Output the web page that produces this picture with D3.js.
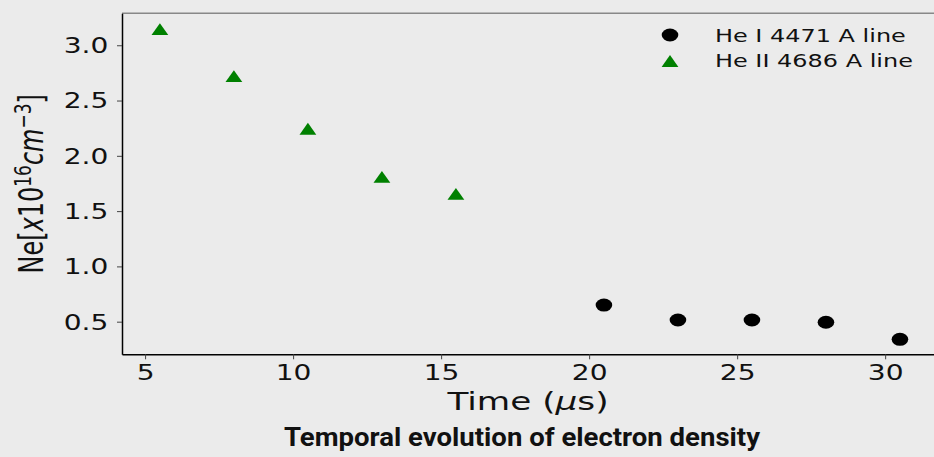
<!DOCTYPE html>
<html>
<head>
<meta charset="utf-8">
<script src="https://cdn.jsdelivr.net/npm/d3@7"></script>
<style>
  html, body { margin: 0; padding: 0; background: #ebebeb; }
  svg { display: block; }
  text { font-family: "DejaVu Sans", sans-serif; fill: #111; }
</style>
</head>
<body>
<div id="chart-area"></div>
<script>
// He I 4471 A line (circles)
var heITime = [20.5, 23, 25.5, 28, 30.5];
var heIDensity = [0.65, 0.515, 0.515, 0.495, 0.34];
// He II 4686 A line (triangles)
var heIITime = [5.5, 8, 10.5, 13, 15.5];
var heIIDensity = [3.145, 2.72, 2.245, 1.81, 1.655];

var xTicks = [5, 10, 15, 20, 25, 30];
var yTicks = [0.5, 1.0, 1.5, 2.0, 2.5, 3.0];
var seriesNames = ['He I 4471 A line', 'He II 4686 A line'];

var W = 934, H = 457;
var plot = { left: 122, top: 13.3, right: 934, bottom: 354.3 };
var SX = 1.37; // the picture is stretched sideways

var svg = d3.select('#chart-area')
    .append('svg')
    .attr('width', W)
    .attr('height', H);

svg.append('rect')
    .attr('width', W)
    .attr('height', H)
    .attr('fill', '#ebebeb');

var x = d3.scaleLinear()
    .domain([4.22, 31.65])
    .range([plot.left, plot.right]);

var y = d3.scaleLinear()
    .domain([0.205, 3.289])
    .range([plot.bottom, plot.top]);

// top spine (grey)
svg.append('line')
    .attr('x1', plot.left).attr('x2', plot.right)
    .attr('y1', plot.top).attr('y2', plot.top)
    .attr('stroke', '#888')
    .attr('stroke-width', 1.5);

var xAxis = d3.axisBottom(x)
    .tickValues(xTicks)
    .tickSize(5)
    .tickSizeOuter(0);
var gx = svg.append('g')
    .attr('transform', 'translate(0,' + plot.bottom + ')')
    .call(xAxis);
gx.select('.domain').attr('stroke', '#000').attr('stroke-width', 1.5);
gx.selectAll('.tick line').attr('stroke', '#444');
gx.selectAll('.tick text')
    .attr('y', 0)
    .attr('dy', null)
    .attr('transform', 'translate(0,26) scale(' + SX + ',1)')
    .style('font-family', '"DejaVu Sans", sans-serif')
    .style('font-size', '20.5px')
    .attr('fill', '#111');

var yAxis = d3.axisLeft(y)
    .tickValues(yTicks)
    .tickFormat(d3.format('.1f'))
    .tickSize(5)
    .tickSizeOuter(0);
var gy = svg.append('g')
    .attr('transform', 'translate(' + plot.left + ',0)')
    .call(yAxis);
gy.select('.domain').attr('stroke', '#000').attr('stroke-width', 1.5);
gy.selectAll('.tick line').attr('stroke', '#444');
gy.selectAll('.tick text')
    .attr('x', -10)
    .attr('dy', '0.36em')
    .attr('transform', 'scale(' + SX + ',1)')
    .style('font-family', '"DejaVu Sans", sans-serif')
    .style('font-size', '20.5px')
    .attr('fill', '#111');

// markers
var triW = 8.4, triH = 5.9;
function triPath(cx, cy) {
    return 'M' + cx + ',' + (cy - triH) +
        'L' + (cx + triW) + ',' + (cy + triH) +
        'L' + (cx - triW) + ',' + (cy + triH) + 'Z';
}

svg.selectAll('path.tri')
    .data(heIITime)
    .enter()
    .append('path')
    .attr('class', 'tri')
    .attr('d', function (d, i) { return triPath(x(d), y(heIIDensity[i])); })
    .attr('fill', '#008000');

svg.selectAll('ellipse.dot')
    .data(heITime)
    .enter()
    .append('ellipse')
    .attr('class', 'dot')
    .attr('cx', function (d) { return x(d); })
    .attr('cy', function (d, i) { return y(heIDensity[i]); })
    .attr('rx', 8.3)
    .attr('ry', 6.5)
    .attr('fill', '#000');

// legend
var legend = svg.append('g');
legend.append('ellipse')
    .attr('cx', 670).attr('cy', 35)
    .attr('rx', 8.3).attr('ry', 6.5)
    .attr('fill', '#000');
legend.append('path')
    .attr('d', triPath(670, 61))
    .attr('fill', '#008000');
legend.selectAll('text')
    .data(seriesNames)
    .enter()
    .append('text')
    .attr('transform', function (d, i) {
        return 'translate(715,' + (41.7 + i * 25) + ') scale(' + SX + ',1)';
    })
    .style('font-size', '17.5px')
    .text(function (d) { return d; });

// x label
var xl = svg.append('text')
    .attr('transform', 'translate(' + ((plot.left + plot.right) / 2) + ',410) scale(' + SX + ',1)')
    .attr('text-anchor', 'middle')
    .style('font-size', '25px');
xl.append('tspan').text('Time (');
xl.append('tspan').style('font-style', 'italic').text('\u03bc');
xl.append('tspan').text('s)');

// y label
var yl = svg.append('text')
    .attr('transform', 'translate(43,' + ((plot.top + plot.bottom) / 2) + ') scale(' + SX + ',1) rotate(-90)')
    .attr('text-anchor', 'middle')
    .style('font-size', '24px');
yl.append('tspan').text('Ne[');
yl.append('tspan').style('font-style', 'italic').text('x');
yl.append('tspan').text('10');
yl.append('tspan').attr('dy', -9).style('font-size', '17px').text('16');
yl.append('tspan').attr('dy', 9).style('font-style', 'italic').text('cm');
yl.append('tspan').attr('dy', -9).style('font-size', '17px').text('\u22123');
yl.append('tspan').attr('dy', 9).text(']');

// caption
svg.append('text')
    .attr('x', 284)
    .attr('y', 446)
    .attr('textLength', 476)
    .attr('lengthAdjust', 'spacingAndGlyphs')
    .style('font-family', 'Roboto, "Liberation Sans", sans-serif')
    .style('font-weight', 'bold')
    .style('font-size', '26px')
    .attr('fill', '#000')
    .text('Temporal evolution of electron density');
</script>
</body>
</html>
